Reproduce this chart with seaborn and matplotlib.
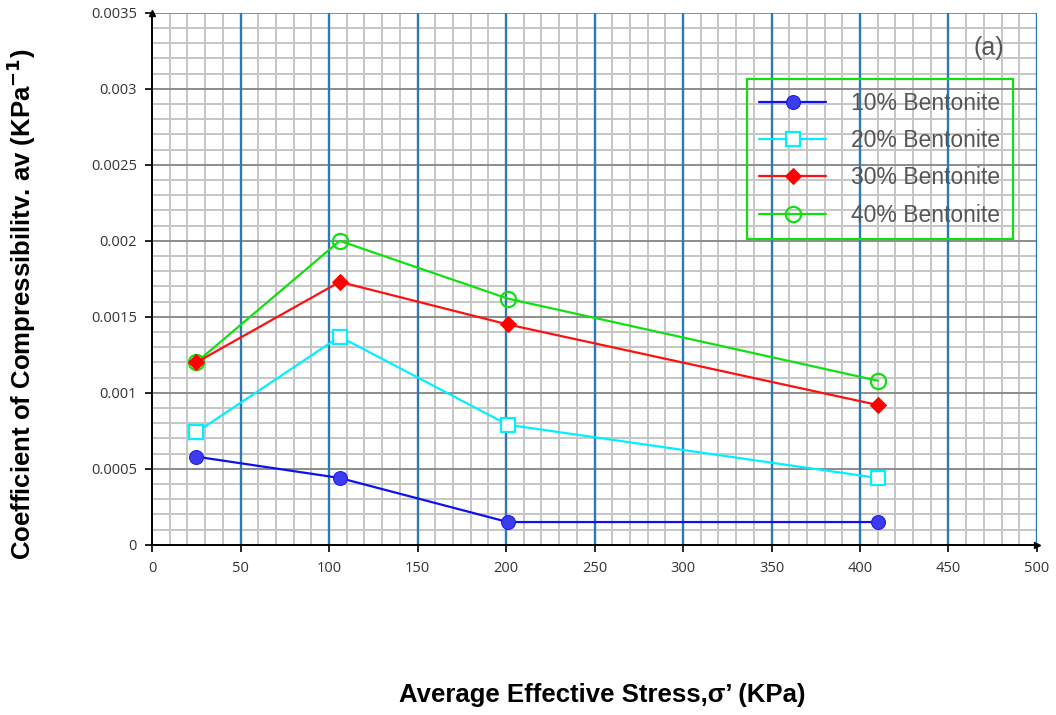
import numpy as np
import pandas as pd
import matplotlib
matplotlib.use("Agg")
import matplotlib.pyplot as plt
from matplotlib.ticker import MultipleLocator, FixedLocator, FixedFormatter
import seaborn as sns

# ---- data ----
stress = [25, 106, 201, 410]
bent10 = [0.00058, 0.00044, 0.00015, 0.00015]
bent20 = [0.00074, 0.00137, 0.00079, 0.00044]
bent30 = [0.00120, 0.00173, 0.00145, 0.00092]
bent40 = [0.00120, 0.00200, 0.00162, 0.00108]
series_names = ["10% Bentonite", "20% Bentonite", "30% Bentonite", "40% Bentonite"]
x_ticks = [0, 50, 100, 150, 200, 250, 300, 350, 400, 450, 500]
y_ticks = [0, 0.0005, 0.001, 0.0015, 0.002, 0.0025, 0.003, 0.0035]
y_tick_labels = ["0", "0.0005", "0.001", "0.0015", "0.002", "0.0025", "0.003", "0.0035"]

sns.set_theme(style="white")
plt.rcParams["font.family"] = ["Liberation Sans", "DejaVu Sans"]

fig = plt.figure(figsize=(10.56, 7.15), dpi=100)
ax = fig.add_axes([0.144, 0.238, 0.838, 0.744])

values = [bent10, bent20, bent30, bent40]
styles = [
    dict(color="#1010ee", marker="o", markerfacecolor="#3b3bf0", markeredgecolor="#1a1ae8", markersize=10),
    dict(color="#00f0ff", marker="s", markerfacecolor="white", markeredgecolor="#00f0ff", markersize=10, markeredgewidth=1.6),
    dict(color="#ff1010", marker="D", markerfacecolor="#ff0000", markeredgecolor="#ff0000", markersize=8),
    dict(color="#10e010", marker="o", markerfacecolor="none", markeredgecolor="#10e010", markersize=11, markeredgewidth=1.6),
]
order_draw = [0, 1, 3, 2]
for i in order_draw:
    df = pd.DataFrame({"x": stress, "y": values[i]})
    sns.lineplot(data=df, x="x", y="y", ax=ax, label=series_names[i], linewidth=1.6,
                 estimator=None, sort=False, zorder=5, **styles[i])

ax.set_xlim(0, 500)
ax.set_ylim(0, 0.0035)

# grids
ax.xaxis.set_major_locator(FixedLocator(x_ticks))
ax.xaxis.set_minor_locator(MultipleLocator(10))
ax.yaxis.set_major_locator(FixedLocator(y_ticks))
ax.yaxis.set_major_formatter(FixedFormatter(y_tick_labels))
ax.yaxis.set_minor_locator(MultipleLocator(0.0001))
ax.grid(which="minor", axis="both", color="#c6c6c6", linewidth=1.4)
ax.grid(which="major", axis="y", color="#8c8c8c", linewidth=1.4)
ax.set_axisbelow(True)
for xv in x_ticks[1:]:
    ax.axvline(xv, color="#2a7ab8", linewidth=1.7, zorder=1.5)

for s in ["top", "right"]:
    ax.spines[s].set_visible(False)
for s in ["left", "bottom"]:
    ax.spines[s].set_color("black")
    ax.spines[s].set_linewidth(1.4)
    ax.spines[s].set_zorder(6)

ax.tick_params(axis="both", which="major", length=5, width=1.2, direction="out",
               colors="black", labelcolor="#333333", labelsize=10.5, left=True, bottom=True)
ax.tick_params(axis="both", which="minor", length=0)
for lab in ax.get_xticklabels() + ax.get_yticklabels():
    lab.set_family(["Open Sans", "DejaVu Sans"])
ax.tick_params(axis="x", pad=7)
ax.tick_params(axis="y", pad=6)

# arrow heads
ax.plot([0], [1], marker="^", color="black", markersize=5, transform=ax.transAxes, clip_on=False, zorder=7)
ax.plot([1], [0], marker=">", color="black", markersize=5, transform=ax.transAxes, clip_on=False, zorder=7)

ax.set_xlabel("")
ax.set_ylabel("")
fig.text(0.570, 0.028, "Average Effective Stress,σ\u2019 (KPa)", ha="center", va="center",
         fontsize=18.5, fontweight="bold", color="black")
fig.text(0.020, 0.575, "Coefficient of Compressibilitv. av (KPa$^{\\mathbf{-1}}$)", ha="center", va="center",
         rotation=90, fontsize=18.5, fontweight="bold", color="black")

ax.text(0.946, 0.934, "(a)", transform=ax.transAxes, ha="center", va="center",
        fontsize=18, color="#555555")

handles, labels = ax.get_legend_handles_labels()
idx = [labels.index(n) for n in series_names]
leg = ax.legend([handles[i] for i in idx], [labels[i] for i in idx],
                loc="upper left", bbox_to_anchor=(0.672, 0.875), frameon=True,
                fontsize=16.5, handlelength=2.9, handletextpad=1.1, labelspacing=0.62,
                borderpad=0.55, borderaxespad=0, fancybox=False)
frame = leg.get_frame()
frame.set_facecolor("none")
frame.set_alpha(None)
frame.set_edgecolor("#10e010")
frame.set_linewidth(1.6)
for t in leg.get_texts():
    t.set_color("#555555")
leg.set_zorder(8)

fig.savefig("out.png", dpi=100)
